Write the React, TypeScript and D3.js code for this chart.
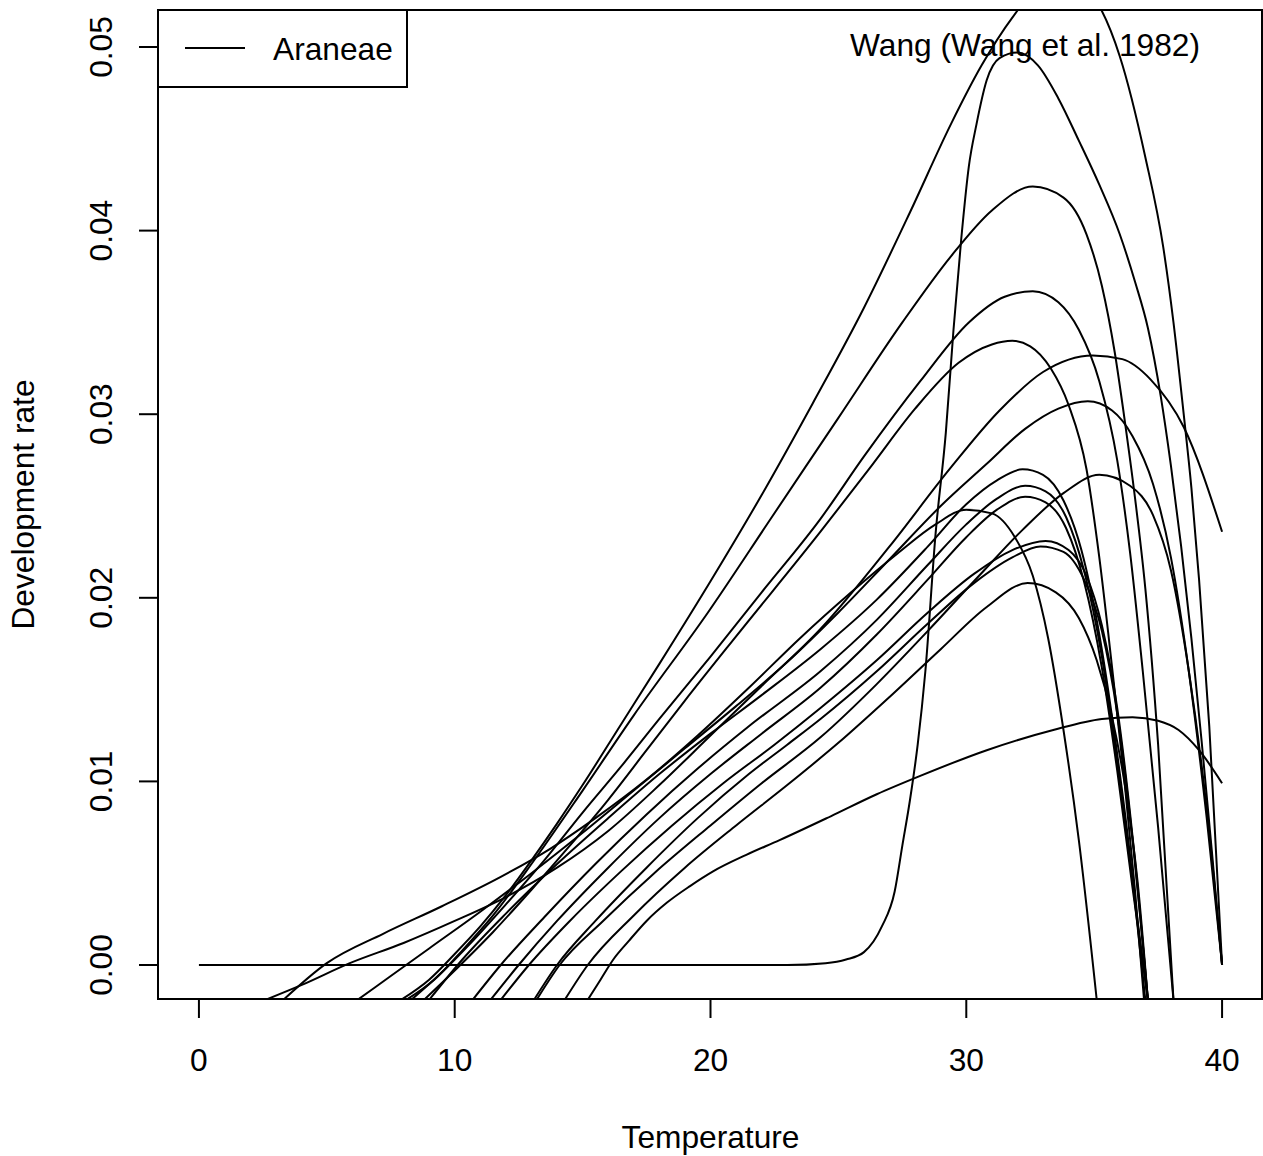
import React from "react";
import * as d3 from "d3";

type Pt = [number, number];

const xTicks = [0, 10, 20, 30, 40];
const yTicks = [0, 0.01, 0.02, 0.03, 0.04, 0.05];
const yTickLabels = ["0.00", "0.01", "0.02", "0.03", "0.04", "0.05"];
const legendLabel = "Araneae";
const modelLabel = "Wang (Wang et al. 1982)";
const xTitle = "Temperature";
const yTitle = "Development rate";

const curveC1: Pt[] = [[7.9,-0.0019],[9.0,-0.0008],[10.0,0.0006],[11.0,0.0021],[12.0,0.0038],[13.0,0.0057],[14.0,0.0077],[15.0,0.0098],[16.5,0.0131],[18.0,0.0164],[20.0,0.0209],[22.0,0.0256],[24.0,0.0306],[26.0,0.0358],[27.8,0.041],[29.4,0.0458],[30.6,0.049],[31.8,0.0516],[33.0,0.0535],[34.0,0.0538],[35.0,0.0527],[36.0,0.0495],[37.0,0.044],[37.7,0.0391],[38.1,0.035],[38.5,0.03],[38.8,0.026],[39.1,0.021],[39.5,0.013],[40,0]];
const curveP2: Pt[] = [[0,0],[23,0],[24.5,0.0001],[25.3,0.0003],[26.0,0.0007],[26.7,0.0021],[27.2,0.004],[27.5,0.0065],[27.8,0.009],[28.1,0.012],[28.4,0.016],[28.8,0.0235],[29.2,0.029],[29.5,0.0346],[29.8,0.0395],[30.1,0.0435],[30.4,0.0458],[30.8,0.0482],[31.3,0.0494],[32.0,0.0497],[32.8,0.049],[33.6,0.0472],[34.4,0.0449],[35.2,0.0425],[36.0,0.0398],[36.6,0.0372],[37.1,0.0347],[37.6,0.031],[38.0,0.0272],[38.4,0.0228],[38.8,0.0178],[39.2,0.0122],[39.6,0.0062],[40,0]];
const curveP3: Pt[] = [[8.1,-0.0019],[9.2,-0.0008],[10.3,0.0008],[11.5,0.0027],[13.0,0.0055],[15.0,0.0095],[17.0,0.0136],[19.9,0.0192],[22.4,0.0244],[25.0,0.0298],[27.5,0.035],[29.4,0.0386],[31.0,0.0411],[32.6,0.0424],[33.8,0.0418],[34.7,0.0398],[35.3,0.037],[35.8,0.0334],[36.2,0.0296],[36.6,0.0254],[37.0,0.0205],[37.5,0.012],[38.1,-0.0019]];
const curveP4: Pt[] = [[8.3,-0.0019],[9.5,-0.0004],[10.7,0.0013],[12.0,0.0033],[13.5,0.0057],[15.0,0.0083],[16.5,0.0108],[18.0,0.0134],[20.0,0.0168],[22.0,0.0203],[24.3,0.0243],[26.0,0.0277],[28.2,0.0318],[30.1,0.035],[31.5,0.0364],[32.6,0.0367],[33.6,0.0361],[34.4,0.0346],[35.2,0.0318],[35.9,0.0275],[36.4,0.0225],[36.9,0.016],[37.5,0.0075],[38.1,-0.0019]];
const curveP5: Pt[] = [[8.8,-0.0019],[10.0,-0.0003],[11.5,0.0018],[13.0,0.0041],[14.5,0.0065],[16.0,0.009],[17.5,0.0117],[19.0,0.0144],[21.0,0.0179],[24.3,0.0236],[26.3,0.0272],[28.0,0.0303],[29.7,0.0328],[31.0,0.0338],[31.8,0.034],[32.5,0.0337],[33.3,0.0325],[34.0,0.0305],[34.7,0.027],[35.2,0.0222],[35.7,0.0162],[36.2,0.0098],[36.6,0.004],[36.95,-0.0019]];
const curveP6: Pt[] = [[2.6,-0.0019],[4.0,-0.0011],[5.9,0.0001],[8.0,0.0012],[10.0,0.0024],[12.0,0.0037],[14.0,0.0053],[16.0,0.0073],[18.0,0.0098],[20.0,0.0125],[22.0,0.0152],[24.3,0.0183],[27.0,0.0228],[29.4,0.0271],[31.3,0.0302],[33.0,0.0323],[34.95,0.0332],[36.1,0.033],[37.2,0.0319],[38.5,0.0293],[40,0.0236]];
const curveP7: Pt[] = [[6.2,-0.0019],[7.5,-0.0006],[9.0,0.0009],[11.0,0.0029],[13.0,0.005],[15.0,0.0072],[17.0,0.0095],[19.0,0.0118],[21.0,0.0141],[23.0,0.0165],[25.0,0.0192],[27.0,0.0221],[29.0,0.025],[30.8,0.0273],[32.3,0.0292],[33.6,0.0303],[34.75,0.0307],[35.7,0.0302],[36.5,0.0288],[37.3,0.0262],[38.0,0.0222],[38.7,0.016],[39.4,0.008],[40,0]];
const curveP8: Pt[] = [[9.0,-0.0019],[10.3,0.0003],[12.0,0.0028],[14.0,0.0055],[16.0,0.008],[18.0,0.0104],[20.0,0.0126],[22.0,0.0147],[24.3,0.0172],[26.5,0.0199],[28.5,0.0228],[30.0,0.0251],[31.2,0.0264],[32.2,0.027],[33.0,0.0267],[33.8,0.0253],[34.5,0.0226],[35.2,0.018],[35.8,0.0125],[36.4,0.006],[37.0,-0.0019]];
const curveP9: Pt[] = [[13.2,-0.0019],[14.1,0],[15.8,0.0024],[17.8,0.005],[20.0,0.0076],[22.0,0.0099],[24.3,0.0124],[26.5,0.0153],[28.5,0.0182],[30.5,0.0212],[32.2,0.0237],[33.8,0.0257],[35.2,0.0267],[36.4,0.0261],[37.3,0.0245],[38.0,0.0215],[38.7,0.016],[39.4,0.0085],[40,0]];
const curveP10: Pt[] = [[10.7,-0.0019],[11.8,0],[13.5,0.0026],[15.5,0.0055],[17.5,0.0082],[19.5,0.0107],[21.5,0.013],[24.3,0.016],[26.5,0.0188],[28.5,0.0218],[30.0,0.024],[31.2,0.0254],[32.3,0.0261],[33.1,0.0258],[33.9,0.0244],[34.6,0.0215],[35.3,0.0168],[35.9,0.011],[36.5,0.0045],[37.1,-0.0019]];
const curveP11: Pt[] = [[11.4,-0.0019],[12.5,0],[14.0,0.0024],[16.0,0.0053],[18.0,0.008],[20.0,0.0104],[22.0,0.0126],[24.3,0.0151],[26.5,0.018],[28.5,0.021],[30.0,0.0233],[31.2,0.0248],[32.3,0.0255],[33.1,0.0252],[33.9,0.0238],[34.6,0.0209],[35.3,0.0162],[35.9,0.0106],[36.5,0.0042],[37.1,-0.0019]];
const curveP12: Pt[] = [[3.3,-0.0019],[5.0,0.0001],[7.2,0.0017],[9.5,0.0032],[11.8,0.0048],[13.7,0.0063],[15.5,0.008],[17.5,0.0101],[19.5,0.0125],[21.5,0.0151],[23.5,0.0178],[25.5,0.0203],[27.3,0.0224],[28.8,0.024],[30.0,0.0248],[31.0,0.0246],[31.9,0.0233],[32.6,0.0212],[33.2,0.0178],[33.8,0.0128],[34.4,0.0068],[35.1,-0.0019]];
const curveP13: Pt[] = [[11.8,-0.0019],[12.9,0],[14.5,0.0024],[16.5,0.0051],[18.5,0.0076],[20.5,0.0099],[22.5,0.012],[24.3,0.014],[26.5,0.0166],[28.5,0.0192],[30.3,0.0213],[31.8,0.0226],[33.1,0.0231],[34.0,0.0226],[34.7,0.0212],[35.3,0.0185],[35.9,0.014],[36.5,0.007],[37.1,-0.0019]];
const curveP14: Pt[] = [[13.1,-0.0019],[14.0,0],[15.5,0.0024],[17.5,0.0053],[19.5,0.008],[21.5,0.0104],[23.0,0.012],[24.3,0.0134],[26.5,0.016],[28.5,0.0186],[30.3,0.0208],[31.8,0.0222],[32.9,0.0228],[33.8,0.0225],[34.6,0.021],[35.3,0.0182],[35.9,0.0137],[36.5,0.0068],[37.1,-0.0019]];
const curveP15: Pt[] = [[14.3,-0.0019],[15.2,0],[17.0,0.0027],[19.0,0.0053],[21.0,0.0076],[23.0,0.0098],[25.0,0.0121],[27.0,0.0146],[29.0,0.0172],[30.8,0.0195],[32.4,0.0208],[33.5,0.0203],[34.4,0.0189],[35.1,0.0166],[35.7,0.0135],[36.2,0.0098],[36.7,0.0045],[37.1,-0.0019]];
const curveP16: Pt[] = [[15.2,-0.0019],[15.7,-0.0008],[16.2,0.0003],[16.8,0.0013],[17.5,0.0024],[18.3,0.0034],[19.2,0.0043],[20.1,0.0051],[21.4,0.006],[22.7,0.0068],[24.7,0.0081],[26.5,0.0093],[28.2,0.0103],[30.8,0.0117],[33.4,0.0128],[35.3,0.0134],[36.5,0.0135],[37.5,0.0133],[38.3,0.0128],[39.1,0.0117],[40,0.0099]];

const curves: Pt[][] = [curveC1, curveP2, curveP3, curveP4, curveP5, curveP6, curveP7, curveP8, curveP9, curveP10, curveP11, curveP12, curveP13, curveP14, curveP15, curveP16];

const FONT = "'Liberation Sans', Arial, Helvetica, sans-serif";

export default function App() {
  const left = 158, right = 1262, top = 10, bottom = 999;
  const x = d3.scaleLinear().domain([-1.6, 41.6]).range([158, 1263]);
  const y = d3.scaleLinear().domain([-0.001852, 0.052016]).range([999, 10]);
  const line = d3.line<Pt>().x(d => x(d[0])).y(d => y(d[1])).curve(d3.curveMonotoneX);
  const sw = 2;
  const fs = 31.7;
  return (
    <svg width={1263} height={1156} style={{ position: "absolute", left: 0, top: 0, background: "#fff" }} fontFamily={FONT}>
      <rect x={0} y={0} width={1263} height={1156} fill="#fff" />
      <defs>
        <clipPath id="plotclip">
          <rect x={left} y={top} width={right - left} height={bottom - top} />
        </clipPath>
      </defs>
      <g clipPath="url(#plotclip)">
        {curves.map((c, i) => (
          <path key={i} d={line(c) || ""} fill="none" stroke="#000" strokeWidth={sw} strokeLinejoin="round" />
        ))}
      </g>
      <rect x={left} y={top} width={right - left} height={bottom - top} fill="none" stroke="#000" strokeWidth={sw} />
      <line x1={x(xTicks[0])} x2={x(xTicks[xTicks.length - 1])} y1={bottom} y2={bottom} stroke="#000" strokeWidth={sw} />
      {xTicks.map(t => (
        <g key={t}>
          <line x1={x(t)} x2={x(t)} y1={bottom} y2={bottom + 19} stroke="#000" strokeWidth={sw} />
          <text x={x(t)} y={1071} fontSize={fs} textAnchor="middle">{t}</text>
        </g>
      ))}
      <text x={x(20)} y={1148} fontSize={fs} textAnchor="middle">{xTitle}</text>
      {yTicks.map((t, i) => (
        <g key={t}>
          <line x1={left} x2={left - 19} y1={y(t)} y2={y(t)} stroke="#000" strokeWidth={sw} />
          <text transform={`translate(112,${y(t)}) rotate(-90)`} fontSize={fs} textAnchor="middle">{yTickLabels[i]}</text>
        </g>
      ))}
      <text transform={`translate(34,${(top + bottom) / 2}) rotate(-90)`} fontSize={fs} textAnchor="middle">{yTitle}</text>
      <rect x={left} y={top} width={249} height={77} fill="#fff" stroke="#000" strokeWidth={sw} />
      <line x1={185} x2={245} y1={48} y2={48} stroke="#000" strokeWidth={sw} />
      <text x={273} y={60} fontSize={fs}>{legendLabel}</text>
      <text x={1200} y={56} fontSize={fs} textAnchor="end">{modelLabel}</text>
    </svg>
  );
}
